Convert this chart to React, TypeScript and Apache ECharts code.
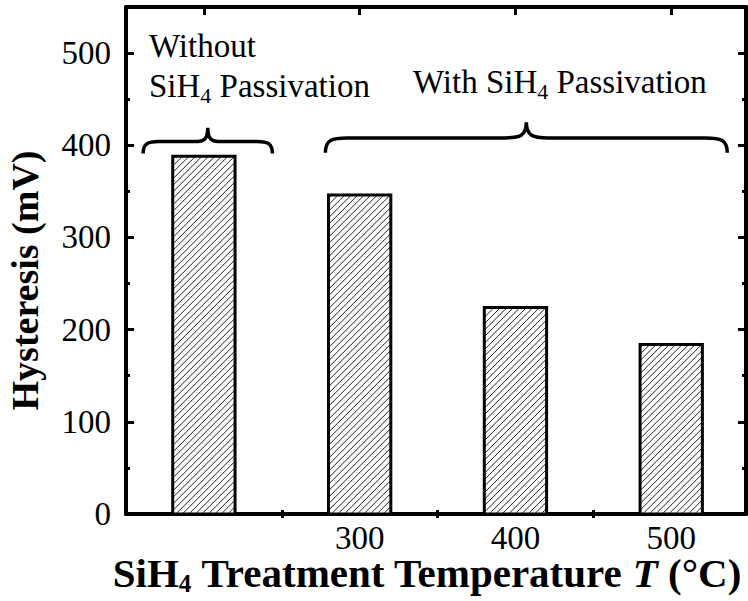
import React, { useEffect, useRef } from "react";
import * as echarts from "echarts";

// ---- data ----
const temperatures = [200, 300, 400, 500]; // 200 = sample without SiH4 passivation
const hysteresis = [388, 346, 224, 184];
const barHalfWidth = 20; // in °C units
const xTickLabels = [300, 400, 500];
const xMajorTicks = [200, 300, 400, 500];
const xMinorTicks = [250, 350, 450];
const yTickLabels = [0, 100, 200, 300, 400, 500];
const yMajorTicks = [0, 100, 200, 300, 400, 500];
const yMinorTicks = [50, 150, 250, 350, 450];
// braces: [xStart, xEnd, yEnd, yLine, yTip] in data units
const braceLeft = [161, 244, 391, 404, 419];
const braceRight = [278, 536, 392, 408, 425];

const FONT = "Liberation Serif";
const BLACK = "#000";

export default function App() {
  const ref = useRef<HTMLDivElement>(null);
  useEffect(() => {
    if (!ref.current) return;
    const chart = echarts.init(ref.current, null, { renderer: "svg" });

    const lineW = 4;
    const majorX = (pos: "bottom" | "top", withLabel: boolean, withName: boolean) => ({
      type: "value",
      position: pos,
      min: 150,
      max: 548,
      interval: 50,
      axisLine: { show: true, onZero: false, lineStyle: { color: BLACK, width: lineW } },
      axisTick: { show: true, inside: true, length: 8, customValues: xMajorTicks, lineStyle: { color: BLACK, width: 3 } },
      axisLabel: withLabel
        ? { show: true, customValues: xTickLabels, fontSize: 33, lineHeight: 28, fontFamily: FONT, color: BLACK, margin: 10 }
        : { show: false },
      splitLine: { show: false },
      ...(withName
        ? {
            name: "SiH{sub|4} Treatment Temperature {it|T} (°C)",
            nameLocation: "middle",
            nameGap: 35,
            nameMoveOverlap: false,
            nameTextStyle: {
              fontSize: 41,
              fontWeight: "bold",
              fontFamily: FONT,
              color: BLACK,
              padding: [0, 18, 0, 0],
              rich: {
                sub: { fontSize: 25, fontWeight: "bold", fontFamily: FONT, color: BLACK, padding: [22, 0, 0, 0] },
                it: { fontSize: 41, fontWeight: "bold", fontStyle: "italic", fontFamily: FONT, color: BLACK },
              },
            },
          }
        : {}),
    });
    const minorX = (pos: "bottom" | "top") => ({
      type: "value",
      position: pos,
      min: 150,
      max: 548,
      interval: 50,
      axisLine: { show: false },
      axisTick: { show: true, inside: true, length: 4, customValues: xMinorTicks, lineStyle: { color: BLACK, width: 3 } },
      axisLabel: { show: false },
      splitLine: { show: false },
    });
    const majorY = (pos: "left" | "right", withLabel: boolean, withName: boolean) => ({
      type: "value",
      position: pos,
      min: 0,
      max: 550,
      interval: 50,
      axisLine: { show: true, onZero: false, lineStyle: { color: BLACK, width: lineW } },
      axisTick: { show: true, inside: true, length: 8, customValues: yMajorTicks, lineStyle: { color: BLACK, width: 3 } },
      axisLabel: withLabel
        ? { show: true, customValues: yTickLabels, fontSize: 33, fontFamily: FONT, color: BLACK, margin: 15 }
        : { show: false },
      splitLine: { show: false },
      ...(withName
        ? {
            name: "Hysteresis (mV)",
            nameLocation: "middle",
            nameRotate: 90,
            nameGap: 82,
            nameMoveOverlap: false,
            nameTextStyle: {
              fontSize: 38,
              fontWeight: "bold",
              fontFamily: FONT,
              color: BLACK,
              padding: [0, 40, 0, 0],
            },
          }
        : {}),
    });
    const minorY = (pos: "left" | "right") => ({
      type: "value",
      position: pos,
      min: 0,
      max: 550,
      interval: 50,
      axisLine: { show: false },
      axisTick: { show: true, inside: true, length: 4, customValues: yMinorTicks, lineStyle: { color: BLACK, width: 3 } },
      axisLabel: { show: false },
      splitLine: { show: false },
    });

    const barData = temperatures.map((t, i) => [t, hysteresis[i]]);

    const renderBar = (params: any, api: any) => {
      const x = api.value(0);
      const v = api.value(1);
      const p0 = api.coord([x - barHalfWidth, v]);
      const p1 = api.coord([x + barHalfWidth, 0]);
      const x0 = p0[0], y0 = p0[1], x1 = p1[0], y1 = p1[1];
      const children: any[] = [
        { type: "rect", shape: { x: x0, y: y0, width: x1 - x0, height: y1 - y0 }, style: { fill: "#fff" } },
      ];
      const step = 6.5;
      for (let c = x0 + y0 + step / 2; c < x1 + y1; c += step) {
        const xa = Math.max(x0, c - y1);
        const xb = Math.min(x1, c - y0);
        if (xb > xa) {
          children.push({
            type: "line",
            shape: { x1: xa, y1: c - xa, x2: xb, y2: c - xb },
            style: { stroke: "#222", lineWidth: 1 },
          });
        }
      }
      children.push({
        type: "rect",
        shape: { x: x0, y: y0, width: x1 - x0, height: y1 - y0 },
        style: { fill: "none", stroke: BLACK, lineWidth: 3 },
      });
      return { type: "group", children };
    };

    const renderBrace = (params: any, api: any) => {
      const xs = api.value(0), xe = api.value(1);
      const yE = api.value(2), yL = api.value(3), yT = api.value(4);
      const xm = (xs + xe) / 2;
      const pS = api.coord([xs, yE]);
      const pE = api.coord([xe, yE]);
      const pL = api.coord([xs, yL]);
      const pT = api.coord([xm, yT]);
      const a = pS[0], b = pE[0], ye = pS[1], yl = pL[1], c = pT[0], yt = pT[1];
      const r = Math.min(22, (b - a) * 0.12);
      const r2 = Math.min(22, (b - a) * 0.1);
      const d =
        `M${a},${ye} C${a},${yl + 2} ${a + r * 0.3},${yl} ${a + r},${yl} ` +
        `L${c - r2},${yl} C${c - r2 * 0.3},${yl} ${c},${yl - 2} ${c},${yt} ` +
        `C${c},${yl - 2} ${c + r2 * 0.3},${yl} ${c + r2},${yl} ` +
        `L${b - r},${yl} C${b - r * 0.3},${yl} ${b},${yl + 2} ${b},${ye}`;
      return {
        type: "path",
        shape: { pathData: d },
        style: { fill: "none", stroke: BLACK, lineWidth: 3.5 },
      };
    };

    const subRich = {
      s: { fontSize: 22, fontFamily: FONT, color: BLACK, padding: [19, 0, 0, 0] },
    };

    chart.setOption({
      animation: false,
      grid: { left: 126, right: 2, top: 7, bottom: 87, containLabel: false, outerBoundsMode: "none" },
      xAxis: [majorX("bottom", true, true), minorX("bottom"), majorX("top", false, false), minorX("top")],
      yAxis: [majorY("left", true, true), minorY("left"), majorY("right", false, false), minorY("right")],
      series: [
        {
          type: "custom",
          xAxisIndex: 0,
          yAxisIndex: 0,
          renderItem: renderBar,
          encode: { x: 0, y: 1 },
          data: barData,
          clip: false,
        },
        {
          type: "custom",
          xAxisIndex: 0,
          yAxisIndex: 0,
          renderItem: renderBrace,
          encode: { x: [0, 1], y: [2, 3, 4] },
          data: [braceLeft, braceRight],
          clip: false,
        },
      ],
      graphic: [
        {
          type: "text",
          x: 149,
          y: 26,
          style: {
            text: "Without\nSiH{s|4} Passivation",
            fontSize: 33,
            fontFamily: FONT,
            fill: BLACK,
            lineHeight: 40,
            rich: subRich,
          },
        },
        {
          type: "text",
          x: 413,
          y: 62,
          style: {
            text: "With SiH{s|4} Passivation",
            fontSize: 33,
            fontFamily: FONT,
            fill: BLACK,
            lineHeight: 40,
            rich: subRich,
          },
        },
      ],
    });
    return () => chart.dispose();
  }, []);
  return <div ref={ref} style={{ position: "absolute", left: 0, top: 0, width: 748, height: 601 }} />;
}
